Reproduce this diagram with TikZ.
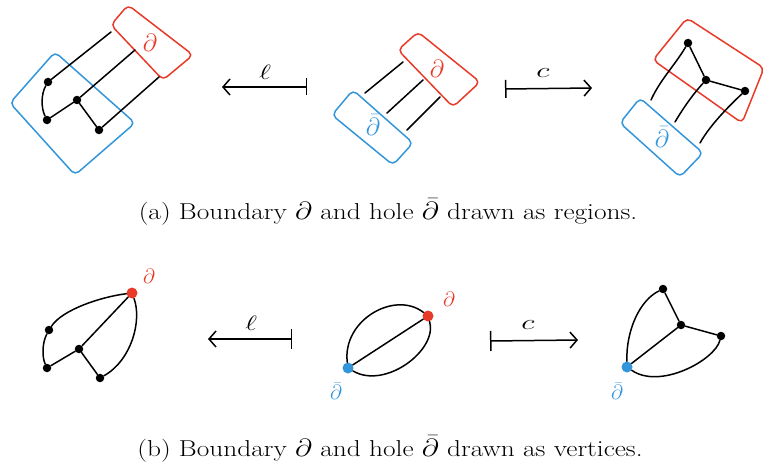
\documentclass[tikz,border=0pt]{standalone}
\usepackage{graphicx}
\usetikzlibrary{arrows.meta}
\definecolor{myred}{RGB}{232,58,40}
\definecolor{myblue}{RGB}{52,150,218}
\tikzset{
  dot/.style={circle, fill=black, inner sep=0pt, minimum size=8.5pt},
  rdot/.style={circle, fill=myred, inner sep=0pt, minimum size=11pt},
  bdot/.style={circle, fill=myblue, inner sep=0pt, minimum size=11pt},
  edge/.style={line width=1.5pt, line cap=round, line join=round},
  region/.style={line width=1.5pt, line join=round, rounded corners=5pt},
  mapsarrow/.style={line width=1.5pt, line cap=round},
  bigsym/.style={inner sep=0pt, font=\fontsize{26}{26}\selectfont},
  smallsym/.style={inner sep=0pt, font=\fontsize{21}{21}\selectfont},
  arrlab/.style={inner sep=0pt, font=\fontsize{22}{22}\selectfont},
  caption/.style={inner sep=0pt, anchor=base, font=\fontsize{23}{25}\selectfont},
}
\begin{document}
\begin{tikzpicture}[x=1pt, y=-1pt]
\useasboundingbox (0,0) rectangle (767,468);

% ===================== (a) top-left =====================
\draw[region, myred] (111,25) -- (128,5) -- (193,55) -- (163,80) -- cycle;
\draw[region, myblue] (55,52) -- (135,123) -- (75,175) -- (10,103) -- cycle;
\node[bigsym, text=myred] (pa1) at (150,43) {$\partial$};
\node[dot] (a1) at (48,82) {};
\node[dot] (a2) at (47,120) {};
\node[dot] (a3) at (77,100) {};
\node[dot] (a4) at (99,130) {};
\coordinate (ra1) at (111,32);
\coordinate (ra3) at (135,50);
\coordinate (ra4) at (159,77);
\draw[edge] (a1) -- (ra1);
\draw[edge] (a3) -- (ra3);
\draw[edge] (a4) -- (ra4);
\draw[edge] (a1) .. controls (41,94) and (41,108) .. (a2);
\draw[edge] (a2) -- (a3);
\draw[edge] (a3) -- (a4);

% arrow l (top)
\coordinate (lt1) at (222,87);
\coordinate (lb1) at (307,87);
\draw[mapsarrow, {Straight Barb[length=7pt,width=16pt]}-{Bar[width=17pt]}] (lt1) -- (lb1);
\node[arrlab] (ll1) at (265,72) {\scalebox{1.4}[1]{$\ell$}};

% ===================== (a) middle =====================
\draw[region, myred] (398,50) -- (418,32) -- (480,82) -- (453,107) -- cycle;
\draw[region, myblue] (353,90) -- (413,143) -- (393,165) -- (332,115) -- cycle;
\node[bigsym, text=myred] (pa2) at (437,69) {$\partial$};
\node[bigsym, text=myblue] (pb2) at (373,125) {$\bar\partial$};
\coordinate (m1a) at (365,93);  \coordinate (m1b) at (403,62);
\coordinate (m2a) at (387,113); \coordinate (m2b) at (423,80);
\coordinate (m3a) at (407,130); \coordinate (m3b) at (440,97);
\draw[edge] (m1a) -- (m1b);
\draw[edge] (m2a) -- (m2b);
\draw[edge] (m3a) -- (m3b);

% arrow c (top)
\coordinate (cb1) at (505,89);
\coordinate (ct1) at (592,88);
\draw[mapsarrow, {Bar[width=18pt]}-{Straight Barb[length=7pt,width=16pt]}] (cb1) -- (ct1);
\node[arrlab] (cl1) at (543,73) {\scalebox{1.5}[1]{$c$}};

% ===================== (a) right =====================
\draw[region, myred] (653,60) -- (687,18) -- (764,68) -- (742,123) -- cycle;
\draw[region, myblue] (640,98) -- (703,153) -- (680,177) -- (620,123) -- cycle;
\node[bigsym, text=myblue] (pb3) at (662,137) {$\bar\partial$};
\node[dot] (e1) at (688,43) {};
\node[dot] (e2) at (706,80) {};
\node[dot] (e3) at (745,91) {};
\coordinate (be1) at (651,100);
\coordinate (be2) at (675,122);
\coordinate (be3) at (700,143);
\draw[edge] (be1) .. controls (660,80) and (675,65) .. (e1);
\draw[edge] (be2) .. controls (685,105) and (695,92) .. (e2);
\draw[edge] (be3) .. controls (710,125) and (730,105) .. (e3);
\draw[edge] (e1) -- (e2);
\draw[edge] (e2) -- (e3);

\node[caption] (capa) at (388,219) {\scalebox{1.19}[1]{(a) Boundary $\partial$ and hole $\bar\partial$ drawn as regions.}};

% ===================== (b) left =====================
\node[rdot] (r1) at (132,293) {};
\node[smallsym, text=myred] (pr1) at (149,276) {$\partial$};
\node[dot] (p1) at (49,330) {};
\node[dot] (p2) at (47,368) {};
\node[dot] (p3) at (79,349) {};
\node[dot] (p4) at (100,378) {};
\draw[edge] (r1) .. controls (100,297) and (62,310) .. (p1);
\draw[edge] (p1) .. controls (42,343) and (42,357) .. (p2);
\draw[edge] (p2) -- (p3);
\draw[edge] (p3) -- (p4);
\draw[edge] (p3) -- (r1);
\draw[edge] (r1) .. controls (142,320) and (132,360) .. (p4);

% arrow l (bottom)
\coordinate (lt2) at (208,339);
\coordinate (lb2) at (292,339);
\draw[mapsarrow, {Straight Barb[length=7pt,width=16pt]}-{Bar[width=20pt]}] (lt2) -- (lb2);
\node[arrlab] (ll2) at (251,323) {\scalebox{1.4}[1]{$\ell$}};

% ===================== (b) middle =====================
\node[bdot] (q0) at (348,368) {};
\node[rdot] (q9) at (428,316) {};
\node[smallsym, text=myred] (pr2) at (449,299) {$\partial$};
\node[smallsym, text=myblue] (pb4) at (336,391) {$\bar\partial$};
\draw[edge] (q0) -- (q9);
\draw[edge] (q0) .. controls (342,320) and (395,290) .. (q9);
\draw[edge] (q0) .. controls (385,390) and (438,350) .. (q9);

% arrow c (bottom)
\coordinate (cb2) at (490,341);
\coordinate (ct2) at (578,340);
\draw[mapsarrow, {Bar[width=20pt]}-{Straight Barb[length=7pt,width=16pt]}] (cb2) -- (ct2);
\node[arrlab] (cl2) at (528,325) {\scalebox{1.5}[1]{$c$}};

% ===================== (b) right =====================
\node[bdot] (s0) at (627,367) {};
\node[smallsym, text=myblue] (pb5) at (617,391) {$\bar\partial$};
\node[dot] (s1) at (663,289) {};
\node[dot] (s2) at (681,325) {};
\node[dot] (s3) at (721,336) {};
\draw[edge] (s0) .. controls (626,330) and (640,300) .. (s1);
\draw[edge] (s1) -- (s2);
\draw[edge] (s2) -- (s3);
\draw[edge] (s0) -- (s2);
\draw[edge] (s0) .. controls (660,390) and (715,360) .. (s3);

\node[caption] (capb) at (390,456) {\scalebox{1.19}[1]{(b) Boundary $\partial$ and hole $\bar\partial$ drawn as vertices.}};
\end{tikzpicture}
\end{document}
